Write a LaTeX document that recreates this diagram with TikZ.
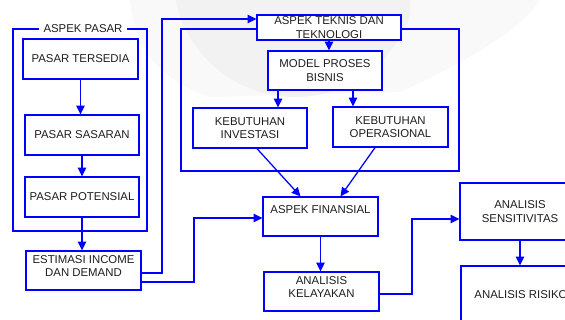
\documentclass[tikz,border=0pt]{standalone}
\usepackage{fontspec}
\setmainfont{Liberation Sans}
\usetikzlibrary{arrows.meta,calc}
\definecolor{biru}{RGB}{0,0,255}
\definecolor{teks}{RGB}{30,30,30}

\begin{document}
\begin{tikzpicture}[x=0.025cm,y=-0.025cm,
					font=\fontsize{8.1}{9.6}\selectfont,
					kotak/.style={draw=biru, line width=0.9pt, fill=white, text=teks, align=center, inner sep=0pt},
					panah/.style={draw=biru, line width=0.9pt, -{Triangle[length=2.2mm,width=2.1mm]}},
					garis/.style={draw=biru, line width=0.9pt}]
    \useasboundingbox (0,0) rectangle (565,320);
    \begin{scope}
    \clip (0,0) rectangle (565,320);
    % watermark
    \fill[gray!5] (130,0) .. controls (135,50) and (160,80) .. (210,97)
    	-- (400,92) .. controls (470,60) and (520,30) .. (540,0) -- cycle;
    \begin{scope}
    \clip (0,0) rectangle (410,320);
    \fill[gray!10] (295,-25) circle [radius=122];
    \end{scope}
    % Frames
    \draw[garis] (13,29) rectangle (147,231);
    \node[fill=white, text=teks, inner sep=3pt] (judul) at (83,29) {ASPEK PASAR};
    \draw[garis] (181,29) rectangle (459,171);
    % Place nodes
    \node [kotak, minimum width=115*0.025cm, minimum height=40*0.025cm] (tersedia) at (80.5,59) {PASAR TERSEDIA};
    \node [kotak, minimum width=114*0.025cm, minimum height=40*0.025cm] (sasaran) at (82,135) {PASAR SASARAN};
    \node [kotak, minimum width=114*0.025cm, minimum height=40*0.025cm] (potensial) at (82,197) {PASAR POTENSIAL};
    \node [kotak, minimum width=115*0.025cm, minimum height=39*0.025cm] (estimasi) at (83.5,270.5) {ESTIMASI INCOME\\DAN DEMAND\\[-3pt]~};
    \node [kotak, minimum width=144*0.025cm, minimum height=25*0.025cm] (teknis) at (329,27.5) {ASPEK TEKNIS DAN\\TEKNOLOGI};
    \node [kotak, minimum width=114*0.025cm, minimum height=39*0.025cm] (model) at (325,70.5) {MODEL PROSES\\BISNIS};
    \node [kotak, minimum width=114*0.025cm, minimum height=40*0.025cm] (investasi) at (250,128) {KEBUTUHAN\\INVESTASI};
    \node [kotak, minimum width=115*0.025cm, minimum height=40*0.025cm] (operasional) at (390.5,127) {KEBUTUHAN\\OPERASIONAL};
    \node [kotak, minimum width=115*0.025cm, minimum height=39*0.025cm] (finansial) at (320.5,216.5) {ASPEK FINANSIAL\\~};
    \node [kotak, minimum width=115*0.025cm, minimum height=39*0.025cm] (kelayakan) at (321.5,291.5) {ANALISIS\\KELAYAKAN\\[-3pt]~};
    \node [kotak, minimum width=120*0.025cm, minimum height=57*0.025cm] (sensitivitas) at (520,211.5) {ANALISIS\\SENSITIVITAS};
    \node [kotak, minimum width=120*0.025cm, minimum height=58*0.025cm] (risiko) at (521,295) {ANALISIS RISIKO};
    % Draw edges
    \draw[panah] (tersedia.south) -- (tersedia.south |- sasaran.north);
    \draw[panah] (sasaran.south) -- (sasaran.south |- potensial.north);
    \draw[panah] (potensial.south) -- (potensial.south |- estimasi.north);
    \coordinate (k1) at (162,19);
    \coordinate (k2) at (194,218);
    \draw[panah] ($(estimasi.east)+(0,2.5)$) -| (k1) -- (k1 -| teknis.west);
    \draw[panah] ($(estimasi.east)+(0,11.5)$) -| (k2) -- (k2 -| finansial.west);
    \draw[panah] (teknis.south) -- (teknis.south |- model.north);
    \coordinate (m1) at ($(model.south)+(-47,0)$);
    \coordinate (m2) at ($(model.south)+(28,0)$);
    \draw[panah] (m1) -- (m1 |- investasi.north);
    \draw[panah] (m2) -- (m2 |- operasional.north);
    \draw[panah] ($(investasi.south)+(7,0)$) -- ($(finansial.north)+(-20,0)$);
    \draw[panah] ($(operasional.south)+(-15.5,0)$) -- ($(finansial.north)+(20,0)$);
    \draw[panah] (finansial.south) -- (finansial.south |- kelayakan.north);
    \coordinate (k3) at (412,219);
    \draw[panah] ($(kelayakan.east)+(0,2.5)$) -| (k3) -- (k3 -| sensitivitas.west);
    \draw[panah] (sensitivitas.south) -- (sensitivitas.south |- risiko.north);
    \end{scope}
\end{tikzpicture}
\end{document}
